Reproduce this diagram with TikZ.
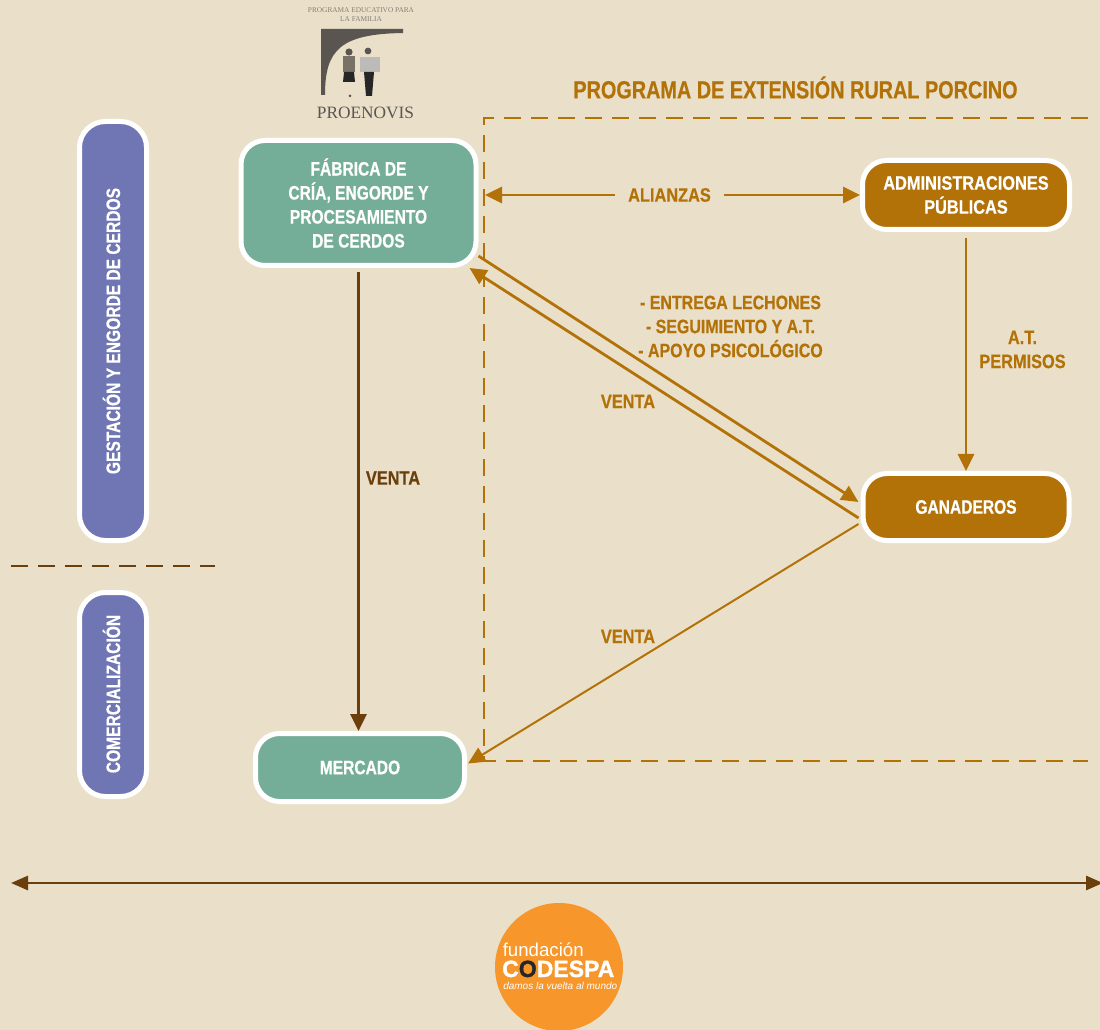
\documentclass[tikz,border=0pt]{standalone}
\usepackage{fontspec}
\setmainfont{Liberation Sans}
\newfontfamily\narrowbf[FakeStretch=0.8,FakeBold=0.5]{Liberation Sans Bold}
\newfontfamily\widerbf[FakeStretch=0.84,FakeBold=0.5]{Liberation Sans Bold}
\newfontfamily\midbf[FakeStretch=0.82,FakeBold=0.5]{Liberation Sans Bold}
\newfontfamily\wideblack[FakeStretch=0.98,FakeBold=1.2]{Liberation Sans Bold}
\newfontfamily\logoserif{Liberation Serif}
\usetikzlibrary{arrows.meta,calc}
\definecolor{bgc}{HTML}{EAE0CA}
\definecolor{ochre}{HTML}{B37208}
\definecolor{brownd}{HTML}{6B3F0B}
\definecolor{greenb}{HTML}{74AD98}
\definecolor{violetb}{HTML}{7076B4}
\definecolor{orangeb}{HTML}{F7962A}
\definecolor{logogrey}{HTML}{5A5550}
\def\px{0.75pt}
\tikzset{
  x=0.75pt,y=-0.75pt,
  lab/.style={font=\narrowbf\fontsize{14.6pt}{18pt}\selectfont,align=center,inner sep=0pt},
  widelab/.style={font=\widerbf\fontsize{14.6pt}{18pt}\selectfont,align=center,inner sep=0pt},
  ochrelab/.style={widelab,text=ochre},
  box/.style={draw=white,line width=5*\px,rounded corners=24*\px,text=white,lab},
  greenbox/.style={box,fill=greenb},
  ochrebox/.style={box,fill=ochre},
  bar/.style={draw=white,line width=5*\px,rounded corners=26*\px,fill=violetb,minimum width=67*\px},
  tip/.style={-{Triangle[length=17*\px,width=16*\px]}},
  tips/.style={{Triangle[length=17*\px,width=14*\px]}-{Triangle[length=17*\px,width=14*\px]}},
  ochreline/.style={draw=ochre,line width=2.8*\px},
  brownline/.style={draw=brownd,line width=2.8*\px},
  dashframe/.style={draw=ochre,line width=2.6*\px,dash pattern=on 17*\px off 10*\px},
}
\begin{document}
\begin{tikzpicture}
\fill[bgc] (0,0) rectangle (1100,1030);
\useasboundingbox (0,0) rectangle (1100,1030);

% logo
\node[inner sep=0pt,text=logogrey!70!bgc,font=\logoserif\fontsize{5.5pt}{6.75pt}\selectfont,align=center] (logotext) at (361,14.5) {PROGRAMA EDUCATIVO PARA\\LA FAMILIA};
\fill[logogrey] (321,29) -- (403,29) -- (403,33) .. controls (340,34) and (325,50) .. (325,95) -- (321,95) -- cycle;
\fill[logogrey] (349,52) circle (3.6);
\fill[logogrey!80!bgc] (343,56) rectangle (355,72);
\fill[black!85] (344,72) -- (354,72) -- (355,82) -- (343,82) -- cycle;
\fill[logogrey] (368,51) circle (3.4);
\fill[white!60!logogrey] (360,57) rectangle (380,72);
\fill[black!85] (364,72) -- (374,72) -- (372,96) -- (366,96) -- cycle;
\fill[logogrey] (350,96) circle (1.5);
\node[inner sep=0pt,text=logogrey,font=\logoserif\fontsize{13pt}{14pt}\selectfont] (logoname) at (365.5,113) {PROENOVIS};

% title
\node[ochrelab,font=\narrowbf\fontsize{18.6pt}{22pt}\selectfont] (title) at (795.5,87.5) {PROGRAMA DE EXTENSIÓN RURAL PORCINO};

% dashed frame
\coordinate (ft) at (1088,118);
\coordinate (fa) at (484,118);
\coordinate (fb) at (484,761);
\coordinate (fe) at (1088,761);
\draw[dashframe] (ft) -- (fa) -- (fb) -- (fe);

% side bars
\node[bar,minimum height=419*\px] (bar1) at (113,331) {};
\node[lab,text=white,rotate=90] (bar1t) at (111.5,331) {GESTACIÓN Y ENGORDE DE CERDOS};
\node[bar,minimum height=204*\px] (bar2) at (113,694.5) {};
\node[lab,text=white,rotate=90] (bar2t) at (111.5,694) {COMERCIALIZACIÓN};

% separator
\coordinate (s1) at (11,566);
\coordinate (s2) at (215,566);
\draw[brownline,dash pattern=on 17*\px off 10*\px] (s1) -- (s2);

% boxes
\node[greenbox,minimum width=235*\px,minimum height=125*\px] (fabrica) at (358.5,203) {FÁBRICA DE\\CRÍA, ENGORDE Y\\PROCESAMIENTO\\DE CERDOS};
\node[greenbox,minimum width=209*\px,minimum height=68*\px] (mercado) at (360,767.5) {MERCADO};
\node[ochrebox,widelab,minimum width=207*\px,minimum height=69*\px] (admin) at (966,195) {ADMINISTRACIONES\\PÚBLICAS};
\node[ochrebox,minimum width=206*\px,minimum height=67*\px] (ganaderos) at (966,507) {GANADEROS};

% labels
\node[ochrelab] (alianzas) at (669.5,195) {ALIANZAS};
\node[ochrelab,font=\midbf\fontsize{14.6pt}{18pt}\selectfont] (entrega) at (730.5,326.5) {- ENTREGA LECHONES\\- SEGUIMIENTO Y A.T.\\- APOYO PSICOLÓGICO};
\node[ochrelab] (atp) at (1022.5,349.5) {A.T.\\PERMISOS};
\node[ochrelab] (venta1) at (628,401.5) {VENTA};
\node[ochrelab] (venta2) at (628,636.5) {VENTA};
\node[widelab,text=brownd] (venta3) at (393,478) {VENTA};

% connectors
\coordinate (al1) at (485,195);
\draw[ochreline,tip] (alianzas.west) ++(-13,0) -- (al1);
\draw[ochreline,tip] (alianzas.east) ++(13,0) -- (admin.west);
\draw[ochreline,tip] (admin.south) ++(0,6) -- (ganaderos.north);
\draw[ochreline,tip] ([shift={(0,-12)}]fabrica.south east) -- ([shift={(-2,-5)}]ganaderos.west);
\draw[ochreline,tip] ([shift={(-2,11)}]ganaderos.west) -- ([shift={(-9,0)}]fabrica.south east);
\draw[ochre,line width=2*\px,tip] ([shift={(-2,17)}]ganaderos.west) -- ([shift={(1,-4)}]mercado.east);
\draw[brownline,tip] (fabrica.south) ++(0,4) -- (fabrica.south |- mercado.north);

% bottom arrow
\coordinate (b1) at (11,883);
\coordinate (b2) at (1103,883);
\draw[brownline,tips] (b1) -- (b2);

% CODESPA
\fill[orangeb] (559,967) circle (64);
\node[inner sep=0pt,text=white,anchor=base west,font=\fontsize{14pt}{15pt}\selectfont] (cf) at (502.5,956) {fundación};
\node[inner sep=0pt,text=white,anchor=base west,font=\wideblack\fontsize{17.6pt}{20pt}\selectfont] (cc) at (502,977) {C\textcolor{black!85}{O}DESPA};
\node[inner sep=0pt,text=white,anchor=base west,font=\itshape\fontsize{7.5pt}{8pt}\selectfont] (cd) at (503,989) {damos la vuelta al mundo};
\end{tikzpicture}
\end{document}
